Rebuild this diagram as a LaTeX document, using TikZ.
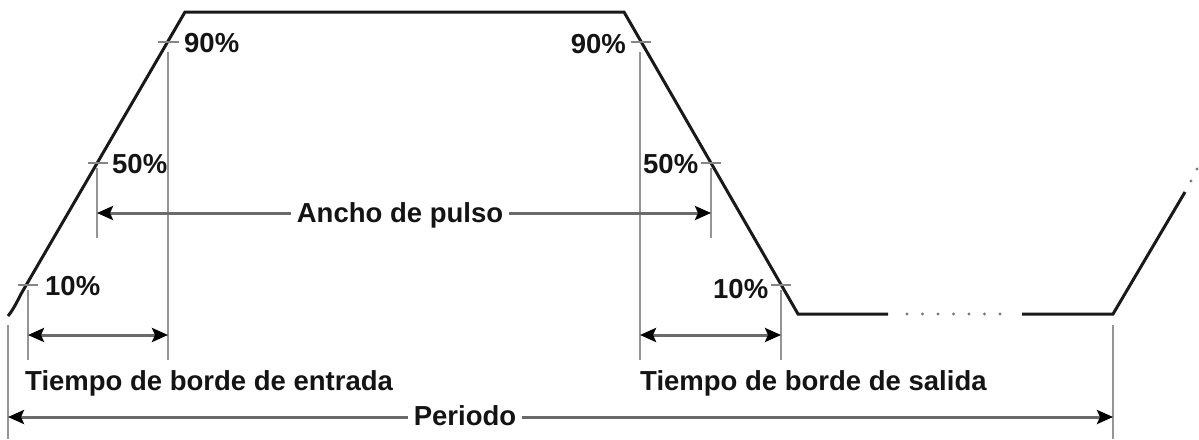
\documentclass[tikz,border=0pt]{standalone}
\usepackage{fontspec}
\setmainfont{Liberation Sans}
\usetikzlibrary{arrows.meta}
\definecolor{refgray}{HTML}{959595}
\definecolor{tickgray}{HTML}{858585}
\definecolor{arrgray}{HTML}{6A6A6A}
\definecolor{dotgray}{HTML}{7A7A7A}
\begin{document}
\begin{tikzpicture}[x=1pt,y=-1pt,
  wave/.style={line width=3pt, black!90, line join=miter},
  refline/.style={line width=2.5pt, refgray},
  tickmark/.style={line width=2.5pt, tickgray},
  dimarrow/.style={line width=3pt, arrgray,
    {Stealth[length=16pt,width=14pt,inset=3pt,color=black]}-{Stealth[length=16pt,width=14pt,inset=3pt,color=black]}},
  lbl/.style={font=\bfseries\fontsize{27.5}{32}\selectfont, inner sep=0pt, text=black!92},
  gaplbl/.style={lbl, fill=white, inner xsep=6pt, inner ysep=2pt}
  ]
\useasboundingbox (0,0) rectangle (1199,439);

% key coordinates
\coordinate (w0) at (8,316);
\coordinate (rtop) at (185,12);
\coordinate (ftop) at (624,12);
\coordinate (fbot) at (798,314);
\coordinate (lowA) at (888,314);
\coordinate (lowB) at (1022,314);
\coordinate (rbot) at (1113,314);
\coordinate (rend) at (1185,192);

% waveform
\draw[wave] (w0) .. controls (13,310) and (17,302) .. (21,294) -- (rtop) -- (ftop) -- (fbot) -- (lowA);
\draw[wave] (lowB) -- (rbot) -- (rend);
\foreach \x in {907,922.5,938,953.5,969,984.5,1000}
  \fill[dotgray] (\x,314) circle (1.6pt);
\fill[dotgray] (1191,181) circle (1.6pt);
\fill[dotgray] (1197,169) circle (1.6pt);

% level ticks
\draw[tickmark] (158,42) -- (179,42);
\draw[tickmark] (88,163) -- (108,163);
\draw[tickmark] (18,285) -- (38,285);
\draw[tickmark] (631,42) -- (651,42);
\draw[tickmark] (701,163) -- (721,163);
\draw[tickmark] (771,285) -- (791,285);

% reference verticals
\draw[refline] (168,52) -- (168,360);
\draw[refline] (97,168) -- (97,238);
\draw[refline] (28,290) -- (28,360);
\draw[refline] (8,325) -- (8,439);
\draw[refline] (640,52) -- (640,360);
\draw[refline] (711,168) -- (711,238);
\draw[refline] (781,290) -- (781,360);
\draw[refline] (1113,325) -- (1113,439);

% arrow end points
\coordinate (aL) at (97,213);
\coordinate (aR) at (711,213);
\coordinate (eL) at (28,335);
\coordinate (eR) at (168,335);
\coordinate (sL) at (640,335);
\coordinate (sR) at (781,335);
\coordinate (pL) at (8,417);
\coordinate (pR) at (1113,417);

\draw[dimarrow] (aL) -- (aR);
\draw[dimarrow] (eL) -- (eR);
\draw[dimarrow] (sL) -- (sR);
\draw[dimarrow] (pL) -- (pR);

% labels
\node[gaplbl, anchor=base] (ancho) at (400,222) {Ancho de pulso};
\node[gaplbl, anchor=base] (periodo) at (465,425) {Periodo};
\node[lbl, anchor=base west] (entrada) at (25,390) {Tiempo de borde de entrada};
\node[lbl, anchor=base west] (salida) at (640,390) {Tiempo de borde de salida};

\node[lbl, anchor=base west] (l90) at (184,52) {90\%};
\node[lbl, anchor=base west] (l50) at (112,173) {50\%};
\node[lbl, anchor=base west] (l10) at (45,295) {10\%};
\node[lbl, anchor=base east] (r90) at (626,53) {90\%};
\node[lbl, anchor=base west] (r50) at (643,173) {50\%};
\node[lbl, anchor=base west] (r10) at (713,298) {10\%};
\end{tikzpicture}
\end{document}
